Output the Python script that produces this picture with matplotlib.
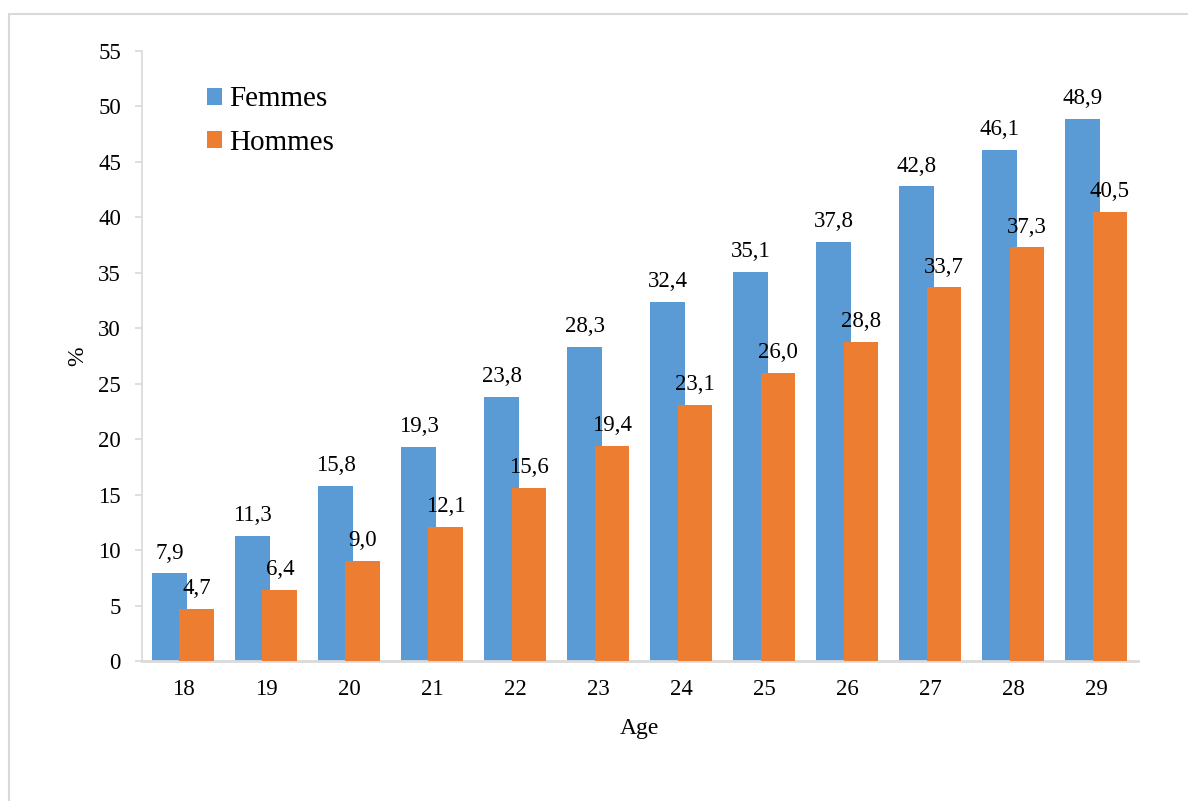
import matplotlib.pyplot as plt
from matplotlib.patches import Rectangle
import numpy as np

plt.rcParams['font.family'] = ['Liberation Serif', 'DejaVu Serif']

# Data
ages = ['18', '19', '20', '21', '22', '23', '24', '25', '26', '27', '28', '29']
femmes = [7.9, 11.3, 15.8, 19.3, 23.8, 28.3, 32.4, 35.1, 37.8, 42.8, 46.1, 48.9]
hommes = [4.7, 6.4, 9.0, 12.1, 15.6, 19.4, 23.1, 26.0, 28.8, 33.7, 37.3, 40.5]

blue = '#5b9bd5'
orange = '#ed7d31'
grid_grey = '#d9d9d9'

fig = plt.figure(figsize=(11.88, 8.01), dpi=100)
ax = fig.add_axes([0.1193, 0.1748, 0.8384, 0.7615])

# light frame round the chart (right and bottom edges fall outside the image)
fig.patches.append(Rectangle((8.5 / 1188, -0.05), 1.2, 1 - 14 / 801 + 0.05,
                             transform=fig.transFigure, fill=False,
                             edgecolor=grid_grey, linewidth=1.5))

x = np.arange(len(ages))
w = 0.42
off = 0.165

b1 = ax.bar(x - off, femmes, w, color=blue, label='Femmes', zorder=2)
b2 = ax.bar(x + off, hommes, w, color=orange, label='Hommes', zorder=3)

for bars, vals in [(b1, femmes), (b2, hommes)]:
    for rect, v in zip(bars, vals):
        ax.annotate(f'{v:.1f}'.replace('.', ','),
                    xy=(rect.get_x() + rect.get_width() / 2, v),
                    xytext=(0, 7), textcoords='offset points',
                    ha='center', va='bottom', fontsize=16.5, zorder=4)

ax.set_xlim(-0.5, len(ages) - 0.5)
ax.set_ylim(0, 55)
ax.set_yticks(np.arange(0, 56, 5))
ax.set_xticks(x)
ax.set_xticklabels(ages)

for s in ['top', 'right']:
    ax.spines[s].set_visible(False)
ax.spines['left'].set_color(grid_grey)
ax.spines['bottom'].set_color(grid_grey)
ax.spines['left'].set_linewidth(1.2)
ax.spines['bottom'].set_linewidth(2)

ax.tick_params(axis='y', length=5, width=1.2, color=grid_grey, pad=10, labelsize=16.5)
ax.tick_params(axis='x', length=0, pad=13, labelsize=16.5)

ax.set_xlabel('Age', fontsize=17, labelpad=13)
ax.set_ylabel('%', fontsize=17, labelpad=7)

ax.legend(loc='upper left', bbox_to_anchor=(0.039, 0.985), frameon=False,
          fontsize=21, handlelength=0.52, handleheight=0.52, handletextpad=0.25,
          labelspacing=0.6)

fig.savefig('out.png', dpi=100, facecolor='white')
